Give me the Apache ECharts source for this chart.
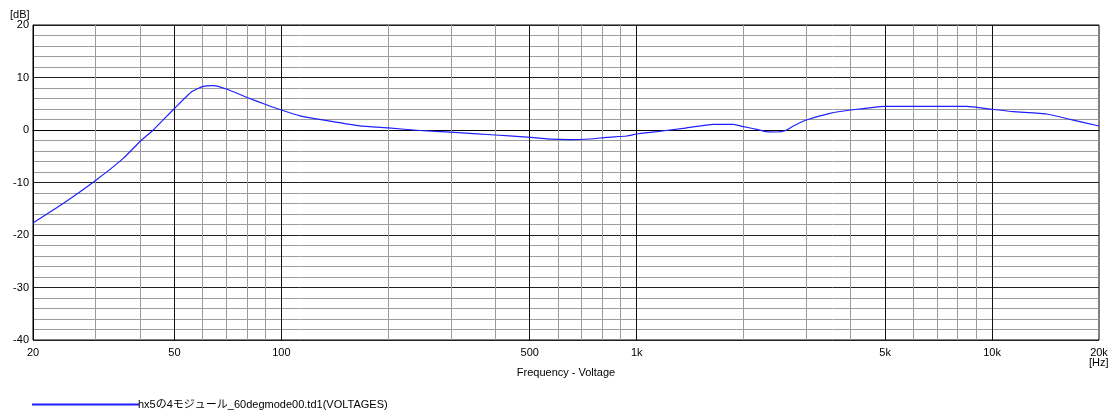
<!DOCTYPE html>
<html><head><meta charset="utf-8">
<script src="https://cdn.jsdelivr.net/npm/echarts@6/dist/echarts.min.js"></script>
<style>html,body{margin:0;padding:0;background:#fff}#c{width:1112px;height:412px}</style>
</head><body><div id="c"></div>
<script>
const freqs = [20, 24.3, 30, 35.9, 40, 43.6, 50, 55.9, 60, 64.4, 70, 80, 90, 100, 112.8, 137, 166, 200, 245.7, 300, 400, 480, 530, 570, 649, 739, 824, 938, 1000, 1139, 1353, 1643, 1871, 2000, 2177, 2323, 2478, 2615, 2760, 3000, 3500, 4000, 4842, 5000, 6500, 8490, 10000, 11487, 14267, 16586, 20000];
const dbs = [-17.7, -14.0, -9.6, -5.4, -2.2, 0.0, 4.1, 7.3, 8.25, 8.45, 7.8, 6.2, 4.9, 3.8, 2.7, 1.7, 0.8, 0.4, -0.1, -0.4, -0.95, -1.3, -1.55, -1.75, -1.84, -1.71, -1.39, -1.14, -0.76, -0.32, 0.32, 1.08, 1.08, 0.63, 0.13, -0.32, -0.38, -0.13, 0.76, 1.9, 3.18, 3.81, 4.44, 4.5, 4.5, 4.5, 3.94, 3.49, 3.05, 2.03, 0.76];
const xTickLabels = [20, 50, 100, 500, 1000, 5000, 10000, 20000];
const minorFreqLines = [30, 40, 60, 70, 80, 90, 200, 300, 400, 600, 700, 800, 900, 2000, 3000, 4000, 6000, 7000, 8000, 9000];
const majorFreqLines = [50, 100, 500, 1000, 5000, 10000];
const seriesName = 'hx5の4モジュール_60degmode00.td1(VOLTAGES)';

const FONT = '"Liberation Sans", Arial, "Noto Sans CJK JP", sans-serif';
const chart = echarts.init(document.getElementById('c'), null, {renderer: 'canvas'});
const gridLines = [];
minorFreqLines.forEach(f => gridLines.push({xAxis: f, lineStyle: {color: '#9c9c9c', width: 1, type: 'solid'}}));
majorFreqLines.forEach(f => gridLines.push({xAxis: f, lineStyle: {color: '#111', width: 1, type: 'solid'}}));

chart.setOption({
  animation: false,
  textStyle: {fontFamily: FONT},
  grid: {left: 33, right: 13, top: 25, bottom: 72, show: true, borderColor: '#000', borderWidth: 1, backgroundColor: 'transparent'},
  legend: {
    left: 32, top: 399, padding: 0, itemWidth: 107, itemHeight: 2, itemGap: 0,
    textStyle: {fontSize: 11, color: '#000', fontFamily: FONT, padding: [0, 0, 0, -6]},
    data: [{name: seriesName, icon: 'rect', itemStyle: {color: '#1f1fff'}}]
  },
  graphic: [
    {type: 'text', left: 10, top: 9, style: {text: '[dB]', fontSize: 11, fill: '#000', fontFamily: FONT}},
    {type: 'text', left: 1089, top: 357, style: {text: '[Hz]', fontSize: 11, fill: '#000', fontFamily: FONT}}
  ],
  xAxis: {
    type: 'log', logBase: 10, min: 20, max: 20000,
    name: 'Frequency - Voltage', nameLocation: 'middle', nameGap: 27,
    nameTextStyle: {fontSize: 11, color: '#000', fontFamily: FONT},
    axisLine: {show: true, lineStyle: {color: '#000'}},
    axisTick: {show: false},
    splitLine: {show: false},
    axisLabel: {
      customValues: xTickLabels, fontSize: 11, color: '#000', margin: 7, fontFamily: FONT,
      formatter: v => v >= 1000 ? (v / 1000) + 'k' : String(v)
    }
  },
  yAxis: {
    type: 'value', min: -40, max: 20, interval: 10,
    axisLine: {show: true, lineStyle: {color: '#000'}},
    axisTick: {show: false},
    axisLabel: {fontSize: 11, color: '#000', margin: 4, fontFamily: FONT},
    splitLine: {show: true, lineStyle: {color: '#222', width: 1}},
    minorTick: {show: false, splitNumber: 5},
    minorSplitLine: {show: true, lineStyle: {color: '#9c9c9c', width: 1}}
  },
  series: [
    {
      name: 'grid', type: 'line', z: 1, silent: true, symbol: 'none',
      data: freqs.map((f, i) => [f, dbs[i]]), lineStyle: {opacity: 0},
      markLine: {silent: true, symbol: ['none', 'none'], label: {show: false}, animation: false, data: gridLines}
    },
    {
      name: seriesName, type: 'line', z: 5, symbol: 'none', smooth: 0.15,
      data: freqs.map((f, i) => [f, dbs[i]]),
      lineStyle: {color: '#1f1fff', width: 1.2},
      itemStyle: {color: '#1f1fff'}
    }
  ]
});
</script></body></html>
